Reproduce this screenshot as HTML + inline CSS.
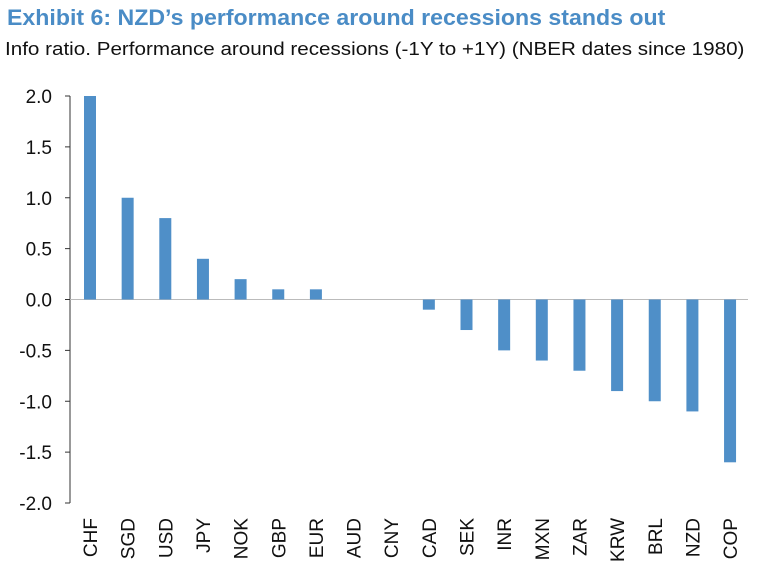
<!DOCTYPE html>
<html><head><meta charset="utf-8"><style>
body{margin:0;background:#fff;width:772px;height:586px;overflow:hidden;font-family:"Liberation Sans",sans-serif}
#title{position:absolute;left:7px;top:5px;font-size:22px;font-weight:bold;color:#4a8cc6;white-space:nowrap;transform-origin:0 0}
#sub{position:absolute;left:5px;top:39px;font-size:18px;color:#111;white-space:nowrap;transform-origin:0 0}
</style></head><body>
<div id="title">Exhibit 6: NZD’s performance around recessions stands out</div>
<div id="sub">Info ratio. Performance around recessions (-1Y to +1Y) (NBER dates since 1980)</div>
<svg id="chart" width="772" height="586" style="position:absolute;left:0;top:0"></svg>
<script>
const categories=["CHF","SGD","USD","JPY","NOK","GBP","EUR","AUD","CNY","CAD","SEK","INR","MXN","ZAR","KRW","BRL","NZD","COP"];
const values=[2.0,1.0,0.8,0.4,0.2,0.1,0.1,0,0,-0.1,-0.3,-0.5,-0.6,-0.7,-0.9,-1.0,-1.1,-1.6];
const yTicks=[2.0,1.5,1.0,0.5,0.0,-0.5,-1.0,-1.5,-2.0];
const tickLabels=["2.0","1.5","1.0","0.5","0.0","-0.5","-1.0","-1.5","-2.0"];
function fit(id,w){const e=document.getElementById(id);e.style.transform='scaleX('+(w/e.scrollWidth)+')';}
fit('title',658);fit('sub',740);
const NS="http://www.w3.org/2000/svg",svg=document.getElementById('chart');
const y=v=>299.5-(v*101.75);
const x=i=>90+i*37.65;
function mk(t,a){const e=document.createElementNS(NS,t);for(const k in a)e.setAttribute(k,a[k]);svg.appendChild(e);return e;}
const ax=mk('line',{x1:70,x2:70,y1:y(2),y2:y(-2),stroke:'#333','stroke-width':1});


const zl=mk('line',{x1:70,x2:748,y1:y(0),y2:y(0),stroke:'#bbb','stroke-width':1});


yTicks.forEach((v,i)=>{
 const t=mk('line',{x1:65,x2:70,y1:y(v),y2:y(v),stroke:'#333','stroke-width':1});
 
 
 const l=mk('text',{x:52,y:y(v)+7,'text-anchor':'end','font-size':19,fill:'#111','font-family':'Liberation Sans, sans-serif'});
 l.textContent=tickLabels[i];
 
 
});
categories.forEach((c,i)=>{
 const v=values[i];
 if(v!==0){
  const b=mk('rect',{x:x(i)-6,y:Math.min(y(v),y(0)),width:12,height:Math.abs(y(v)-y(0)),fill:'#4f8fc8'});
  
  
 }
 const t=mk('text',{x:0,y:0,'text-anchor':'end','font-size':19,fill:'#111','font-family':'Liberation Sans, sans-serif',transform:'translate('+(x(i)+7)+',518) rotate(-90)'});
 t.textContent=c;
 
 
});
</script>
</body></html>
